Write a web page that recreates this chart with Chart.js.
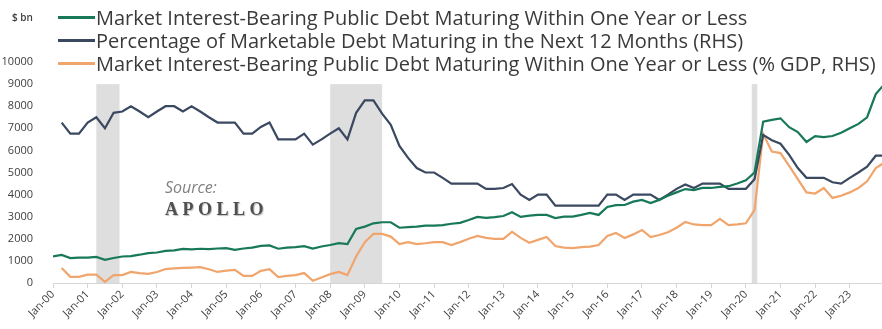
<!DOCTYPE html>
<html>
<head>
<meta charset="utf-8">
<script src="https://cdn.jsdelivr.net/npm/chart.js@4.4.1/dist/chart.umd.min.js"></script>
<style>
  body { margin: 0; background: #fff; font-family: "Open Sans", sans-serif; }
  #wrap { position: relative; width: 882px; height: 329px; overflow: hidden; }
  #chart { position: absolute; left: 0; top: 0; }
  .unit { position: absolute; left: 12px; top: 10px; font-size: 10px; font-weight: 600; color: #404040; }
  .legend { position: absolute; left: 58px; top: 6px; }
  .row { height: 23px; display: flex; align-items: center; font-size: 20px; color: #3a3a3a; white-space: nowrap; }
  .sw { width: 37px; height: 3px; margin-right: 1px; }
  .source { position: absolute; left: 165px; top: 176px; font-size: 16px; font-style: italic; color: #808080; }
  .apollo { position: absolute; left: 165px; top: 199px; font-family: "Liberation Serif", serif; font-size: 18px;
            font-weight: bold; letter-spacing: 4.5px; color: #505050; text-shadow: 1px 1px 1px #bbb; }
</style>
</head>
<body>
<div id="wrap">
  <canvas id="chart" width="882" height="329"></canvas>
  <div class="unit">$ bn</div>
  <div class="legend" id="legend"></div>
  <div class="source">Source:</div>
  <div class="apollo">APOLLO</div>
</div>
<script>
// quarterly readings, first point = Jan 2000
const startYear = 2000;
const seriesNames = [
  "Market Interest-Bearing Public Debt Maturing Within One Year or Less",
  "Percentage of Marketable Debt Maturing in the Next 12 Months (RHS)",
  "Market Interest-Bearing Public Debt Maturing Within One Year or Less (% GDP, RHS)"
];
const colors = ["#17785a", "#3a4860", "#f0a56c"];

// $ bn, left axis
const debtBn = [
  1200, 1270, 1130, 1150, 1150, 1180, 1050, 1130, 1200, 1220, 1280, 1350,
  1380, 1450, 1480, 1540, 1520, 1550, 1530, 1560, 1580, 1500, 1560, 1600,
  1680, 1700, 1550, 1600, 1620, 1670, 1560, 1650, 1720, 1800, 1760, 2450,
  2550, 2700, 2750, 2750, 2500, 2530, 2550, 2600, 2600, 2620, 2680, 2720,
  2850, 2990, 2950, 2980, 3030, 3200, 2990, 3050, 3080, 3080, 2940, 3000,
  3000, 3080, 3170, 3080, 3440, 3520, 3530, 3680, 3760, 3620, 3760, 3950,
  4100, 4250, 4200, 4300, 4300, 4350, 4380, 4500, 4650, 5000, 7300, 7380,
  7450, 7050, 6830, 6380, 6650, 6600, 6650, 6800, 7000, 7200, 7500, 8550,
  9000
];

// % of marketable debt, right axis
const pctMaturing = [
  null, 36.3, 33.8, 33.8, 36.3, 37.5, 35, 38.5, 38.8, 40, 38.8, 37.5,
  38.8, 40, 40, 38.8, 40, 38.8, 37.5, 36.3, 36.3, 36.3, 33.8, 33.8,
  35.3, 36.3, 32.5, 32.5, 32.5, 33.8, 31.3, 32.5, 33.8, 35, 32.5, 38.5,
  41.3, 41.3, 38.3, 35.8, 31, 28.3, 26, 25, 25, 23.8, 22.5, 22.5,
  22.5, 22.5, 21.3, 21.3, 21.5, 22.4, 20, 18.8, 20, 20, 17.5, 17.5,
  17.5, 17.5, 17.5, 17.5, 20, 20, 18.8, 20, 20, 20, 18.8, 20,
  21.3, 22.3, 21.5, 22.5, 22.5, 22.5, 21.3, 21.3, 21.3, 23.5, 33.5, 32.3,
  31.5, 29, 26, 23.8, 23.8, 23.8, 22.8, 22.5, 23.8, 25, 26.3, 28.8,
  28.8
];

// % of GDP, right axis
const pctGdp = [
  null, 3.4, 1.4, 1.4, 1.9, 1.9, 0.25, 1.8, 1.8, 2.5, 2.25, 2.05,
  2.5, 3.15, 3.3, 3.4, 3.5, 3.6, 3.1, 2.5, 2.8, 2.95, 1.6, 1.6,
  2.75, 3.15, 1.35, 1.6, 1.8, 2.25, 0.5, 1.25, 2, 2.5, 1.8, 6,
  9.25, 11.1, 11.1, 10.5, 8.8, 9.25, 8.8, 9, 9.25, 9.25, 8.6, 9.25,
  10, 10.65, 10.2, 10, 10, 11.55, 10.2, 9.1, 9.75, 10.4, 8.35, 8,
  7.9, 8.1, 8.25, 8.6, 10.65, 11.3, 10.2, 11, 12, 10.4, 10.85, 11.5,
  12.5, 13.8, 13.25, 13.1, 13.1, 14.5, 13.1, 13.25, 13.5, 16.5, 33.75, 29.75,
  29.4, 26.5, 23.5, 20.5, 20.25, 21.5, 19.25, 19.75, 20.5, 21.5, 23, 26,
  27.25
];

// recession shading (years), drawn up to 9000 on the left axis
const recessions = [[2001.25, 2001.92], [2008.0, 2009.5], [2020.17, 2020.33]];
const shadeTop = 9000;

function toPoints(arr) {
  return arr.map((v, i) => ({ x: startYear + i / 4, y: v }));
}

const legend = document.getElementById("legend");
seriesNames.forEach((name, i) => {
  const row = document.createElement("div");
  row.className = "row";
  row.innerHTML = `<span class="sw" style="background:${colors[i]}"></span><span>${name}</span>`;
  legend.appendChild(row);
});

const shadeBands = {
  id: "shadeBands",
  beforeDatasetsDraw(chart) {
    const { ctx, chartArea, scales: { x, y } } = chart;
    const top = y.getPixelForValue(shadeTop);
    ctx.save();
    ctx.fillStyle = "#dedede";
    recessions.forEach(([a, b]) => {
      const x0 = x.getPixelForValue(a);
      const x1 = x.getPixelForValue(b);
      ctx.fillRect(x0, top, x1 - x0, chartArea.bottom - top);
    });
    ctx.restore();
  }
};

const tickFont = { family: "Open Sans", size: 11 };

new Chart(document.getElementById("chart"), {
  type: "line",
  data: {
    datasets: [
      { label: seriesNames[0], data: toPoints(debtBn), borderColor: colors[0], yAxisID: "y" },
      { label: seriesNames[1], data: toPoints(pctMaturing), borderColor: colors[1], yAxisID: "y2" },
      { label: seriesNames[2], data: toPoints(pctGdp), borderColor: colors[2], yAxisID: "y2" }
    ]
  },
  options: {
    responsive: false,
    animation: false,
    devicePixelRatio: 1,
    elements: {
      point: { radius: 0 },
      line: { borderWidth: 2.2, tension: 0 }
    },
    layout: { padding: { top: 62, left: 0, right: 0, bottom: 0 } },
    plugins: { legend: { display: false }, tooltip: { enabled: false } },
    scales: {
      x: {
        type: "linear",
        min: 2000,
        max: 2023.93,
        afterFit: (s) => { s.height = 46; },
        ticks: {
          stepSize: 1,
          includeBounds: false,
          autoSkip: false,
          minRotation: 45,
          maxRotation: 45,
          color: "#404040",
          font: tickFont,
          padding: 0,
          callback: (v) => "Jan-" + String(v % 100).padStart(2, "0")
        },
        grid: { drawOnChartArea: false, drawTicks: true, tickLength: 5, color: "#d6d6d6" },
        border: { color: "#d6d6d6" }
      },
      y: {
        min: 0,
        max: 10000,
        afterFit: (s) => { s.width = 53; },
        ticks: { stepSize: 1000, color: "#404040", font: tickFont, padding: 12, callback: (v) => String(v) },
        grid: { display: false },
        border: { display: false }
      },
      y2: {
        position: "right",
        display: false,
        min: 0,
        max: 50
      }
    }
  },
  plugins: [shadeBands]
});
</script>
</body>
</html>
